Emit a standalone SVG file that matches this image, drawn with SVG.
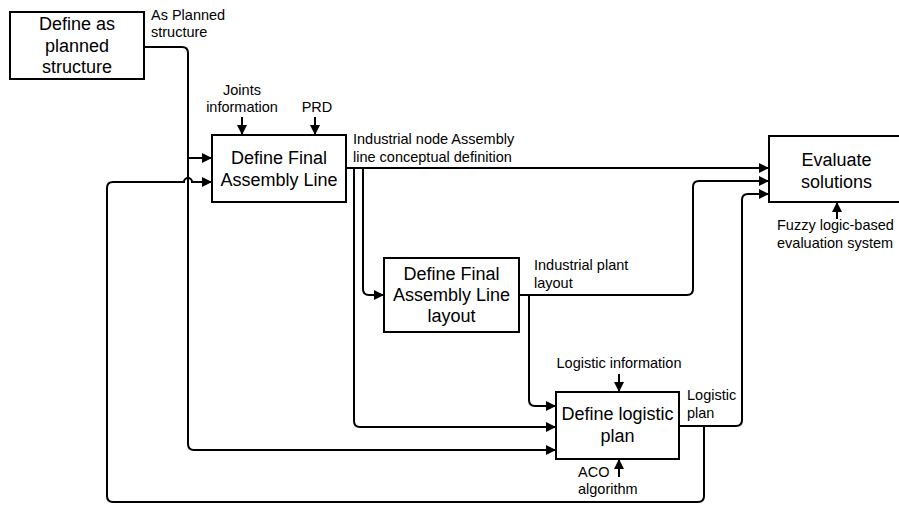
<svg xmlns="http://www.w3.org/2000/svg" width="899" height="505" viewBox="0 0 899 505">
<style>
.box{fill:#fff;stroke:#000;stroke-width:2}
.t{font-family:"Liberation Sans",Arial,sans-serif;font-size:18px;fill:#000;text-anchor:middle}
.s{font-family:"Liberation Sans",Arial,sans-serif;font-size:14.5px;fill:#000}
.c{fill:none;stroke:#000;stroke-width:2}
</style>
<defs>
<marker id="ah" markerUnits="userSpaceOnUse" markerWidth="10" markerHeight="10" refX="10" refY="5" orient="auto">
<path d="M0,0 L10,5 L0,10 z" fill="#000"/>
</marker>
</defs>
<rect width="899" height="505" fill="#fff"/>
<g id="connectors">
<path class="c" d="M144,47 H182 Q188,47 188,53 V444 Q188,450 194,450 H556" marker-end="url(#ah)"/>
<path class="c" d="M188,158 H212" marker-end="url(#ah)"/>
<path class="c" d="M704,426 V496 Q704,502 698,502 H113 Q107,502 107,496 V188 Q107,182 113,182 H184 A4,4 0 0 1 192,182 H212" marker-end="url(#ah)"/>
<path class="c" d="M679,426 H736 Q742,426 742,420 V200 Q742,194 748,194 H769" marker-end="url(#ah)"/>
<path class="c" d="M346,168 H769" marker-end="url(#ah)"/>
<path class="c" d="M354,168 V421 Q354,427 360,427 H556" marker-end="url(#ah)"/>
<path class="c" d="M363,168 V289 Q363,295 369,295 H384" marker-end="url(#ah)"/>
<path class="c" d="M519,295 H687 Q693,295 693,289 V187 Q693,181 699,181 H769" marker-end="url(#ah)"/>
<path class="c" d="M529,295 V400 Q529,406 535,406 H556" marker-end="url(#ah)"/>
<path class="c" d="M242,117 V135" marker-end="url(#ah)"/>
<path class="c" d="M315,117 V135" marker-end="url(#ah)"/>
<path class="c" d="M619,374 V392" marker-end="url(#ah)"/>
<path class="c" d="M619,477 V459" marker-end="url(#ah)"/>
<path class="c" d="M837,219 V202" marker-end="url(#ah)"/>
</g>
<g id="labels">
<text class="s" x="151" y="20">As Planned</text>
<text class="s" x="151" y="37">structure</text>
<text class="s" x="242" y="95" text-anchor="middle">Joints</text>
<text class="s" x="242" y="112" text-anchor="middle">information</text>
<text class="s" x="317" y="112" text-anchor="middle">PRD</text>
<text class="s" x="353" y="144">Industrial node Assembly</text>
<text class="s" x="353" y="162">line conceptual definition</text>
<text class="s" x="534" y="270">Industrial plant</text>
<text class="s" x="534" y="288">layout</text>
<text class="s" x="619" y="368" text-anchor="middle">Logistic information</text>
<text class="s" x="687" y="400">Logistic</text>
<text class="s" x="687" y="418">plan</text>
<text class="s" x="578" y="477">ACO</text>
<text class="s" x="578" y="494">algorithm</text>
<text class="s" x="777" y="230">Fuzzy logic-based</text>
<text class="s" x="777" y="248">evaluation system</text>
</g>
<g id="n1">
<rect class="box" x="10" y="12" width="134" height="67"/>
<text class="t" x="77" y="30">Define as</text>
<text class="t" x="77" y="52">planned</text>
<text class="t" x="77" y="73">structure</text>
</g>
<g id="n2">
<rect class="box" x="212" y="135" width="134" height="67"/>
<text class="t" x="279" y="164">Define Final</text>
<text class="t" x="279" y="186">Assembly Line</text>
</g>
<g id="n3">
<rect class="box" x="384" y="258" width="135" height="74"/>
<text class="t" x="451.5" y="280">Define Final</text>
<text class="t" x="451.5" y="301">Assembly Line</text>
<text class="t" x="451.5" y="322">layout</text>
</g>
<g id="n4">
<rect class="box" x="556" y="392" width="123" height="67"/>
<text class="t" x="617.5" y="420">Define logistic</text>
<text class="t" x="617.5" y="442">plan</text>
</g>
<g id="n5">
<rect class="box" x="769" y="136" width="140" height="66"/>
<text class="t" x="836.5" y="166">Evaluate</text>
<text class="t" x="836.5" y="188">solutions</text>
</g>
</svg>
